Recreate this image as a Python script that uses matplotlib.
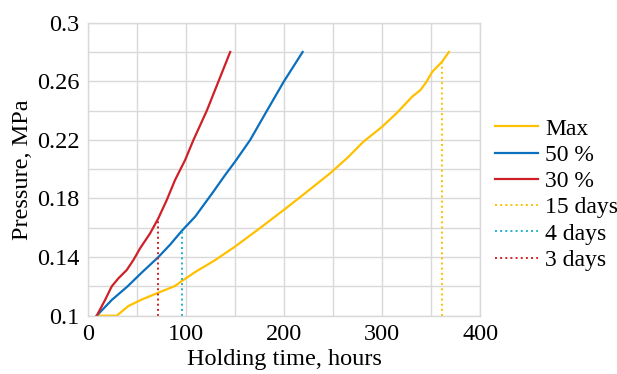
import numpy as np
import matplotlib.pyplot as plt

plt.rcParams['font.family'] = ['Liberation Serif', 'DejaVu Serif']

# Max curve
max_t = [9.2, 20, 29.6, 41.5, 55, 72, 89, 96, 110, 130, 150, 175, 200.6, 217, 247, 265, 281, 300, 315, 330.6, 339, 345, 351, 361, 368]
max_p = [0.1, 0.1, 0.1, 0.1066, 0.111, 0.1157, 0.1203, 0.1237, 0.13, 0.138, 0.1471, 0.1595, 0.1726, 0.1812, 0.1972, 0.208, 0.2188, 0.229, 0.2384, 0.2495, 0.254, 0.2595, 0.2664, 0.2733, 0.28]

# 50 % curve
p50_t = [9.2, 24.5, 40.6, 56, 72, 84, 96, 109.5, 128, 140, 150, 165.6, 182.7, 200, 219]
p50_p = [0.1, 0.1107, 0.12, 0.13, 0.14, 0.1485, 0.158, 0.1676, 0.1846, 0.196, 0.205, 0.22, 0.24, 0.26, 0.28]

# 30 % curve
p30_t = [9.2, 17.7, 24.5, 31.3, 39.8, 46.6, 53.4, 63.6, 72, 80.6, 89, 99.3, 107.8, 121.4, 133.3, 145.2]
p30_p = [0.1, 0.1107, 0.12, 0.1255, 0.1312, 0.138, 0.146, 0.1562, 0.1665, 0.179, 0.1926, 0.2063, 0.22, 0.24, 0.26, 0.28]

# holding-time markers (hours, pressure reached)
mark_t = [360.5, 96, 72]
mark_p = [0.273, 0.158, 0.1665]
mark_labels = ['15 days', '4 days', '3 days']
mark_colors = ['#FFC000', '#20B2CC', '#D02027']

fig = plt.figure(figsize=(6.17, 3.74), dpi=100)
ax = fig.add_axes([0.1421, 0.1559, 0.7784 - 0.1421, 0.9393 - 0.1559])

ax.plot(max_t, max_p, color='#FFC000', lw=1.6, label='Max')
ax.plot(p50_t, p50_p, color='#0A6FBD', lw=1.6, label='50 %')
ax.plot(p30_t, p30_p, color='#D02027', lw=1.6, label='30 %')
for t, p, lab, c in zip(mark_t, mark_p, mark_labels, mark_colors):
    ax.plot([t, t], [0.1, p], color=c, lw=1.4, ls=':', label=lab)

ax.set_xlim(0, 400)
ax.set_ylim(0.1, 0.3)
ax.set_xticks([0, 100, 200, 300, 400])
ax.set_xticks(np.arange(0, 401, 50), minor=True)
ax.set_yticks([0.1, 0.14, 0.18, 0.22, 0.26, 0.3])
ax.set_yticklabels(['0.1', '0.14', '0.18', '0.22', '0.26', '0.3'])
ax.set_yticks(np.arange(0.1, 0.301, 0.02), minor=True)
ax.grid(True, which='both', color='#D9D9D9', lw=1.0)
ax.set_axisbelow(True)
ax.tick_params(which='both', length=0, labelsize=17.5, pad=6)
for s in ax.spines.values():
    s.set_color('#D9D9D9')
    s.set_linewidth(1.0)

ax.set_xlabel('Holding time, hours', fontsize=17.5, labelpad=3)
ax.set_ylabel('Pressure, MPa', fontsize=17.5, labelpad=3)

fig.legend(loc='center left', bbox_to_anchor=(0.803, 0.48), frameon=False,
           fontsize=17, handlelength=1.8, handletextpad=0.3, labelspacing=0.2,
           borderpad=0, borderaxespad=0)

fig.savefig('out.png', dpi=100)
